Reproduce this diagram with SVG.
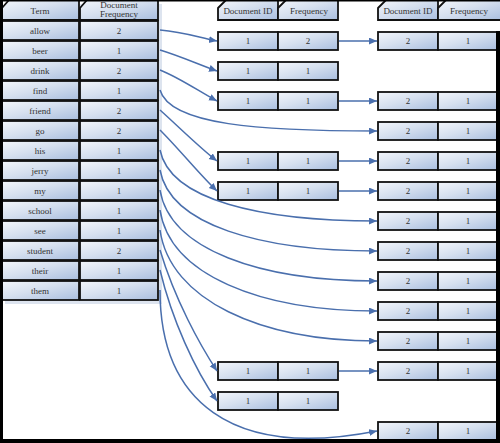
<svg xmlns="http://www.w3.org/2000/svg" width="500" height="443" viewBox="0 0 500 443">
<defs>
<linearGradient id="g" x1="0" y1="0" x2="1" y2="1">
<stop offset="0" stop-color="#f3f6fb"/>
<stop offset="0.45" stop-color="#d6e0ef"/>
<stop offset="1" stop-color="#a9bedf"/>
</linearGradient>
<marker id="a" markerUnits="userSpaceOnUse" markerWidth="9" markerHeight="8" refX="8" refY="3.5" orient="auto">
<path d="M0,0 L8,3.5 L0,7 Z" fill="#4a6fad"/>
</marker>
<style>
.c{fill:url(#g);stroke:#111;stroke-width:1.8}
.s{fill:#dde4ef}
.t{font-family:"Liberation Serif",serif;font-size:9px;fill:#333;text-anchor:middle}
.k{fill:none;stroke:#4a6fad;stroke-width:1.5;marker-end:url(#a)}
</style>
</defs>
<rect width="500" height="443" fill="#fff"/>

<g id="term-table">
<rect class="s" x="5" y="4" width="157" height="300"/>
<path class="c" d="M2,8 L9,0 L79,0 L79,20 L2,20 Z"/>
<path class="c" d="M80,8 L87,0 L158,0 L158,20 L80,20 Z"/>
<text class="t" x="40" y="13.5">Term</text>
<text class="t" x="119" y="8">Document</text>
<text class="t" x="119" y="17">Frequency</text>
</g>

<g id="rows">
<g id="row-allow"><rect class="c" x="2" y="21" width="77" height="19"/><rect class="c" x="80" y="21" width="78" height="19"/><text class="t" x="40" y="33.5">allow</text><text class="t" x="119" y="33.5">2</text></g>
<g id="row-beer"><rect class="c" x="2" y="41" width="77" height="19"/><rect class="c" x="80" y="41" width="78" height="19"/><text class="t" x="40" y="53.5">beer</text><text class="t" x="119" y="53.5">1</text></g>
<g id="row-drink"><rect class="c" x="2" y="61" width="77" height="19"/><rect class="c" x="80" y="61" width="78" height="19"/><text class="t" x="40" y="73.5">drink</text><text class="t" x="119" y="73.5">2</text></g>
<g id="row-find"><rect class="c" x="2" y="81" width="77" height="19"/><rect class="c" x="80" y="81" width="78" height="19"/><text class="t" x="40" y="93.5">find</text><text class="t" x="119" y="93.5">1</text></g>
<g id="row-friend"><rect class="c" x="2" y="101" width="77" height="19"/><rect class="c" x="80" y="101" width="78" height="19"/><text class="t" x="40" y="113.5">friend</text><text class="t" x="119" y="113.5">2</text></g>
<g id="row-go"><rect class="c" x="2" y="121" width="77" height="19"/><rect class="c" x="80" y="121" width="78" height="19"/><text class="t" x="40" y="133.5">go</text><text class="t" x="119" y="133.5">2</text></g>
<g id="row-his"><rect class="c" x="2" y="141" width="77" height="19"/><rect class="c" x="80" y="141" width="78" height="19"/><text class="t" x="40" y="153.5">his</text><text class="t" x="119" y="153.5">1</text></g>
<g id="row-jerry"><rect class="c" x="2" y="161" width="77" height="19"/><rect class="c" x="80" y="161" width="78" height="19"/><text class="t" x="40" y="173.5">jerry</text><text class="t" x="119" y="173.5">1</text></g>
<g id="row-my"><rect class="c" x="2" y="181" width="77" height="19"/><rect class="c" x="80" y="181" width="78" height="19"/><text class="t" x="40" y="193.5">my</text><text class="t" x="119" y="193.5">1</text></g>
<g id="row-school"><rect class="c" x="2" y="201" width="77" height="19"/><rect class="c" x="80" y="201" width="78" height="19"/><text class="t" x="40" y="213.5">school</text><text class="t" x="119" y="213.5">1</text></g>
<g id="row-see"><rect class="c" x="2" y="221" width="77" height="19"/><rect class="c" x="80" y="221" width="78" height="19"/><text class="t" x="40" y="233.5">see</text><text class="t" x="119" y="233.5">1</text></g>
<g id="row-student"><rect class="c" x="2" y="241" width="77" height="19"/><rect class="c" x="80" y="241" width="78" height="19"/><text class="t" x="40" y="253.5">student</text><text class="t" x="119" y="253.5">2</text></g>
<g id="row-their"><rect class="c" x="2" y="261" width="77" height="19"/><rect class="c" x="80" y="261" width="78" height="19"/><text class="t" x="40" y="273.5">their</text><text class="t" x="119" y="273.5">1</text></g>
<g id="row-them"><rect class="c" x="2" y="281" width="77" height="19"/><rect class="c" x="80" y="281" width="78" height="19"/><text class="t" x="40" y="293.5">them</text><text class="t" x="119" y="293.5">1</text></g>
</g>

<g id="header-doc1">
<path class="c" d="M218,8 L226,0 L278,0 L278,20 L218,20 Z"/>
<path class="c" d="M278,8 L286,0 L338,0 L338,20 L278,20 Z"/>
<text class="t" x="248" y="13.5">Document ID</text>
<text class="t" x="309" y="13.5">Frequency</text>
</g>
<g id="header-doc2">
<path class="c" d="M378,8 L386,0 L438,0 L438,20 L378,20 Z"/>
<path class="c" d="M438,8 L446,0 L502,0 L502,20 L438,20 Z"/>
<text class="t" x="408" y="13.5">Document ID</text>
<text class="t" x="469" y="13.5">Frequency</text>
</g>

<g id="postings-doc1">
<g id="p1-allow"><rect class="c" x="218" y="32" width="60" height="18"/><rect class="c" x="278" y="32" width="60" height="18"/><text class="t" x="248" y="44">1</text><text class="t" x="308" y="44">2</text></g>
<g id="p1-beer"><rect class="c" x="218" y="62" width="60" height="18"/><rect class="c" x="278" y="62" width="60" height="18"/><text class="t" x="248" y="74">1</text><text class="t" x="308" y="74">1</text></g>
<g id="p1-drink"><rect class="c" x="218" y="92" width="60" height="18"/><rect class="c" x="278" y="92" width="60" height="18"/><text class="t" x="248" y="104">1</text><text class="t" x="308" y="104">1</text></g>
<g id="p1-friend"><rect class="c" x="218" y="152" width="60" height="18"/><rect class="c" x="278" y="152" width="60" height="18"/><text class="t" x="248" y="164">1</text><text class="t" x="308" y="164">1</text></g>
<g id="p1-go"><rect class="c" x="218" y="182" width="60" height="18"/><rect class="c" x="278" y="182" width="60" height="18"/><text class="t" x="248" y="194">1</text><text class="t" x="308" y="194">1</text></g>
<g id="p1-student"><rect class="c" x="218" y="362" width="60" height="18"/><rect class="c" x="278" y="362" width="60" height="18"/><text class="t" x="248" y="374">1</text><text class="t" x="308" y="374">1</text></g>
<g id="p1-their"><rect class="c" x="218" y="392" width="60" height="18"/><rect class="c" x="278" y="392" width="60" height="18"/><text class="t" x="248" y="404">1</text><text class="t" x="308" y="404">1</text></g>
</g>

<g id="postings-doc2">
<g id="p2-allow"><rect class="c" x="378" y="32" width="60" height="18"/><rect class="c" x="438" y="32" width="60" height="18"/><text class="t" x="408" y="44">2</text><text class="t" x="468" y="44">1</text></g>
<g id="p2-drink"><rect class="c" x="378" y="92" width="60" height="18"/><rect class="c" x="438" y="92" width="60" height="18"/><text class="t" x="408" y="104">2</text><text class="t" x="468" y="104">1</text></g>
<g id="p2-find"><rect class="c" x="378" y="122" width="60" height="18"/><rect class="c" x="438" y="122" width="60" height="18"/><text class="t" x="408" y="134">2</text><text class="t" x="468" y="134">1</text></g>
<g id="p2-friend"><rect class="c" x="378" y="152" width="60" height="18"/><rect class="c" x="438" y="152" width="60" height="18"/><text class="t" x="408" y="164">2</text><text class="t" x="468" y="164">1</text></g>
<g id="p2-go"><rect class="c" x="378" y="182" width="60" height="18"/><rect class="c" x="438" y="182" width="60" height="18"/><text class="t" x="408" y="194">2</text><text class="t" x="468" y="194">1</text></g>
<g id="p2-his"><rect class="c" x="378" y="212" width="60" height="18"/><rect class="c" x="438" y="212" width="60" height="18"/><text class="t" x="408" y="224">2</text><text class="t" x="468" y="224">1</text></g>
<g id="p2-jerry"><rect class="c" x="378" y="242" width="60" height="18"/><rect class="c" x="438" y="242" width="60" height="18"/><text class="t" x="408" y="254">2</text><text class="t" x="468" y="254">1</text></g>
<g id="p2-my"><rect class="c" x="378" y="272" width="60" height="18"/><rect class="c" x="438" y="272" width="60" height="18"/><text class="t" x="408" y="284">2</text><text class="t" x="468" y="284">1</text></g>
<g id="p2-school"><rect class="c" x="378" y="302" width="60" height="18"/><rect class="c" x="438" y="302" width="60" height="18"/><text class="t" x="408" y="314">2</text><text class="t" x="468" y="314">1</text></g>
<g id="p2-see"><rect class="c" x="378" y="332" width="60" height="18"/><rect class="c" x="438" y="332" width="60" height="18"/><text class="t" x="408" y="344">2</text><text class="t" x="468" y="344">1</text></g>
<g id="p2-student"><rect class="c" x="378" y="362" width="60" height="18"/><rect class="c" x="438" y="362" width="60" height="18"/><text class="t" x="408" y="374">2</text><text class="t" x="468" y="374">1</text></g>
<g id="p2-them"><rect class="c" x="378" y="422" width="60" height="18"/><rect class="c" x="438" y="422" width="60" height="18"/><text class="t" x="408" y="434">2</text><text class="t" x="468" y="434">1</text></g>
</g>

<g id="connectors">
<path class="k" d="M160,30 C185,32 200,38 217,41"/>
<path class="k" d="M160,50 C180,56 200,65 217,71"/>
<path class="k" d="M160,70 C180,78 200,92 217,101"/>
<path class="k" d="M160,90 C170,125 260,131 377,131"/>
<path class="k" d="M160,110 C180,128 200,148 217,161"/>
<path class="k" d="M160,130 C180,150 200,175 217,191"/>
<path class="k" d="M160,150 C170,200 260,221 377,221"/>
<path class="k" d="M160,170 C170,225 260,251 377,251"/>
<path class="k" d="M160,190 C170,250 260,281 377,281"/>
<path class="k" d="M160,210 C170,275 260,311 377,311"/>
<path class="k" d="M160,230 C170,300 260,341 377,341"/>
<path class="k" d="M160,250 C175,300 200,345 217,371"/>
<path class="k" d="M160,270 C172,320 195,370 217,401"/>
<path class="k" d="M160,290 C160,400 230,460 377,431"/>
<path class="k" d="M339,41 L377,41"/>
<path class="k" d="M339,101 L377,101"/>
<path class="k" d="M339,161 L377,161"/>
<path class="k" d="M339,191 L377,191"/>
<path class="k" d="M339,371 L377,371"/>
</g>

<g id="frame" fill="#000">
<rect x="0" y="0" width="500" height="1.5"/>
<rect x="0" y="0" width="3" height="443"/>
<rect x="0" y="439" width="500" height="4"/>
<rect x="496" y="31" width="4" height="412"/>
</g>
</svg>
